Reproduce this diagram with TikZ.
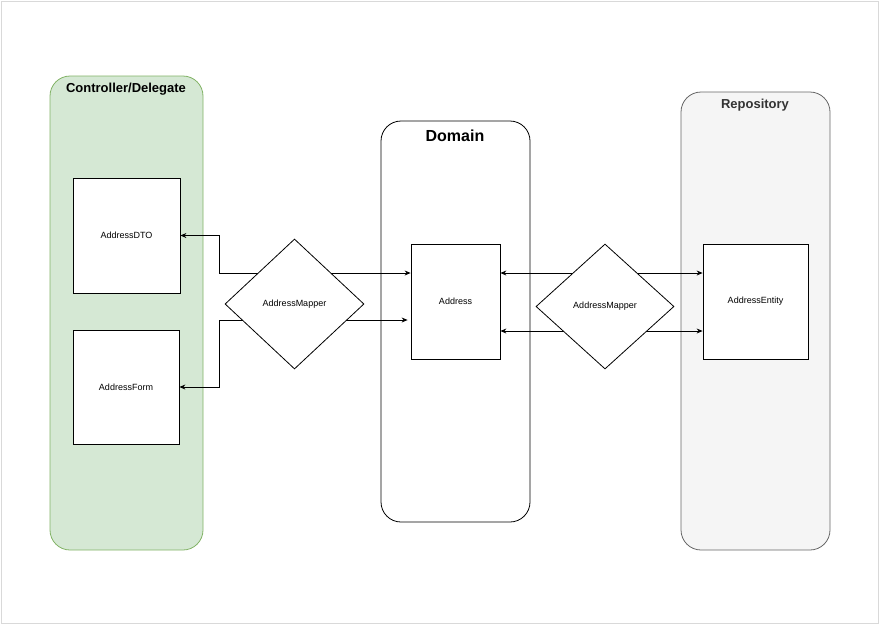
\documentclass[tikz,border=0pt]{standalone}
\usepackage{fontspec}
\setmainfont{Liberation Sans}
\usepackage{tikz}
\usetikzlibrary{calc, arrows.meta, shapes.geometric}

\definecolor{ctrlfill}{HTML}{D5E8D4}
\definecolor{ctrldraw}{HTML}{82B366}
\definecolor{repofill}{HTML}{F5F5F5}
\definecolor{repodraw}{HTML}{666666}
\definecolor{repotext}{HTML}{333333}

\begin{document}
\begin{tikzpicture}[x=1pt, y=-1pt, line width=0.8pt,
  layer/.style={draw, rounded corners=20pt},
  title/.style={font=\bfseries\fontsize{13}{15}\selectfont},
  box/.style={draw, fill=white, minimum width=#1, font=\fontsize{9}{11}\selectfont, inner sep=0pt},
  box/.default=106pt,
  mapper/.style={draw, fill=white, diamond, aspect=1.07, minimum width=139pt, minimum height=130pt, inner sep=0pt, font=\fontsize{9}{11}\selectfont},
  link/.style={<->, >={Stealth[length=6pt, width=5pt]}}]
\useasboundingbox (0,0) rectangle (880,625);
\draw[gray!30] (1,1) rectangle (878,623);
% layers
\draw[layer, fill=ctrlfill, draw=ctrldraw] (50,76) rectangle (203,550);
\draw[layer] (381,121) rectangle (530,522);
\draw[layer, fill=repofill, draw=repodraw] (681,92) rectangle (830,550);
\draw(126,89) node[title]{Controller/Delegate};
\draw(455,136) node[title, font=\bfseries\fontsize{16}{18}\selectfont]{Domain};
\draw(755,105) node[title, text=repotext]{Repository};
% classes
\node[box=107pt, minimum height=115pt] (dto) at (126.5,235.5) {AddressDTO};
\node[box=106pt, minimum height=114pt] (form) at (126,387) {AddressForm};
\node[box=89pt, minimum height=115pt] (addr) at (455.5,301.5) {Address};
\node[box=105pt, minimum height=115pt] (entity) at (755.5,301.5) {AddressEntity};
% mappings
\draw[link] (dto.east) -| (219,273) -- (addr.west |- 0,273);
\draw[link] (form.east) -| (219,320) -- ([xshift=-3pt]addr.west |- 0,320);
\draw[link] (addr.east |- 0,273) -- (entity.west |- 0,273);
\draw[link] (addr.east |- 0,331) -- (entity.west |- 0,331);
\node[mapper] (mapL) at (294.5,304) {AddressMapper};
\node[mapper, minimum width=138pt, minimum height=125pt] (mapR) at (605,306.5) {AddressMapper};
\end{tikzpicture}
\end{document}
